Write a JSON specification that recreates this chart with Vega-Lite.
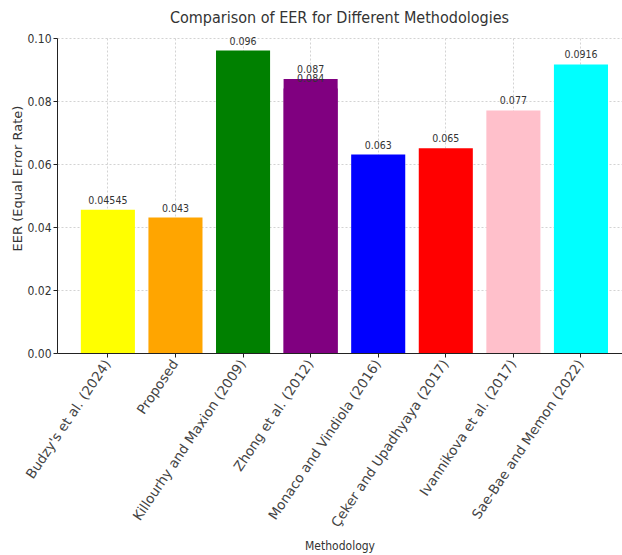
{
  "$schema": "https://vega.github.io/schema/vega-lite/v6.json",
  "autosize": {"type": "none"},
  "padding": {"left": 57, "top": 38, "right": 0, "bottom": 202},
  "width": 565,
  "height": 315,
  "background": "white",
  "config": {
    "view": {"stroke": null},
    "font": "DejaVu Sans Condensed, DejaVu Sans",
    "axis": {
      "gridColor": "#c8c8c8",
      "gridDash": [2, 2],
      "gridWidth": 0.8,
      "domainColor": "#222",
      "tickColor": "#222",
      "labelColor": "#333",
      "titleColor": "#333",
      "labelFont": "DejaVu Sans Condensed, DejaVu Sans",
      "titleFont": "DejaVu Sans Condensed, DejaVu Sans",
      "titleFontWeight": "normal"
    }
  },
  "title": {
    "text": "Comparison of EER for Different Methodologies",
    "fontSize": 16,
    "fontWeight": "normal",
    "color": "#333",
    "font": "DejaVu Sans Condensed, DejaVu Sans",
    "offset": 6,
    "anchor": "middle"
  },
  "data": {
    "values": [
      {"method": "Budzy's et al. (2024)", "eer": 0.04545, "order": 1},
      {"method": "Proposed", "eer": 0.043, "order": 2},
      {"method": "Killourhy and Maxion (2009)", "eer": 0.096, "order": 3},
      {"method": "Zhong et al. (2012)", "eer": 0.087, "order": 4},
      {"method": "Zhong et al. (2012)", "eer": 0.084, "order": 4},
      {"method": "Monaco and Vindiola (2016)", "eer": 0.063, "order": 5},
      {"method": "Çeker and Upadhyaya (2017)", "eer": 0.065, "order": 6},
      {"method": "Ivannikova et al. (2017)", "eer": 0.077, "order": 7},
      {"method": "Sae-Bae and Memon (2022)", "eer": 0.0916, "order": 8}
    ]
  },
  "encoding": {
    "x": {
      "field": "method",
      "type": "nominal",
      "sort": {"field": "order"},
      "scale": {"paddingInner": 0.2, "paddingOuter": 0.28, "align": 0.63},
      "axis": {
        "title": "Methodology",
        "titleFontSize": 12,
        "titleY": 187,
        "labelAngle": -56,
        "labelAlign": "right",
        "labelBaseline": "middle",
        "labelFont": "DejaVu Sans",
        "labelFontSize": 13.5,
        "labelColor": "#444",
        "labelPadding": 4,
        "labelLimit": 300,
        "labelOverlap": false,
        "grid": true,
        "bandPosition": 0.5,
        "tickSize": 4
      }
    },
    "y": {
      "field": "eer",
      "type": "quantitative",
      "scale": {"domain": [0, 0.1]},
      "axis": {
        "title": "EER (Equal Error Rate)",
        "titleFontSize": 13,
        "titleFont": "DejaVu Sans",
        "titleX": -40,
        "titleY": 140,
        "titleBaseline": "middle",
        "format": ".2f",
        "values": [0, 0.02, 0.04, 0.06, 0.08, 0.1],
        "labelOverlap": false,
        "labelFontSize": 12,
        "tickSize": 4
      }
    }
  },
  "layer": [
    {
      "mark": {"type": "bar"},
      "encoding": {
        "y": {"field": "eer", "type": "quantitative", "stack": null},
        "color": {
          "field": "method",
          "type": "nominal",
          "sort": {"field": "order"},
          "scale": {
            "domain": ["Budzy's et al. (2024)", "Proposed", "Killourhy and Maxion (2009)", "Zhong et al. (2012)", "Monaco and Vindiola (2016)", "Çeker and Upadhyaya (2017)", "Ivannikova et al. (2017)", "Sae-Bae and Memon (2022)"],
            "range": ["#ffff00", "#ffa500", "#008000", "#800080", "#0000ff", "#ff0000", "#ffc0cb", "#00ffff"]
          },
          "legend": null
        }
      }
    },
    {
      "mark": {"type": "text", "baseline": "bottom", "dy": -4, "fontSize": 10.5, "color": "#333", "font": "DejaVu Sans Condensed, DejaVu Sans"},
      "encoding": {
        "y": {"field": "eer", "type": "quantitative", "stack": null},
        "text": {"field": "eer", "type": "nominal"}
      }
    }
  ]
}
